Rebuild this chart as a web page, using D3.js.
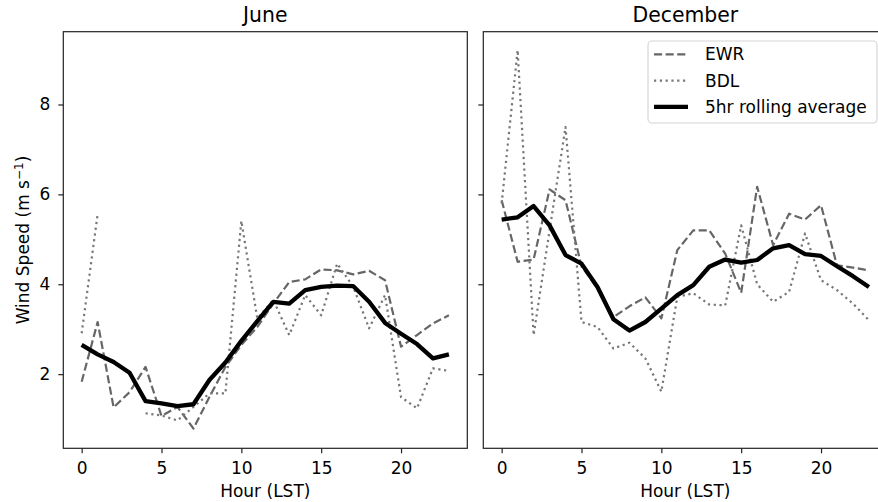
<!DOCTYPE html>
<html>
<head>
<meta charset="utf-8">
<script src="https://cdn.jsdelivr.net/npm/d3@7"></script>
<style>
  body { margin: 0; background: #fff; }
  text { font-family: "DejaVu Sans", sans-serif; fill: #000; }
</style>
</head>
<body>
<svg id="chart" width="878" height="502"></svg>
<script>
//////// Data
var hours = [0, 1, 2, 3, 4, 5, 6, 7, 8, 9, 10, 11, 12, 13, 14, 15, 16, 17, 18, 19, 20, 21, 22, 23]

var juneEWR = [1.83, 3.16, 1.26, 1.60, 2.16, 1.07, 1.27, 0.79, 1.49, 2.16, 2.65, 3.05,
               3.57, 4.05, 4.11, 4.33, 4.31, 4.22, 4.30, 4.09, 2.61, 2.87, 3.13, 3.31]
var juneBDL = [2.91, 5.56, null, null, 1.13, 1.08, 0.97, 1.27, 1.57, 1.57, 5.41, 3.24,
               3.65, 2.87, 3.76, 3.31, 4.46, 3.95, 3.02, 3.76, 1.49, 1.24, 2.13, 2.07]
var juneAvg = [2.65, 2.44, 2.27, 2.03, 1.40, 1.35, 1.29, 1.33, 1.87, 2.26, 2.74, 3.18,
               3.61, 3.57, 3.87, 3.94, 3.97, 3.96, 3.61, 3.14, 2.90, 2.67, 2.35, 2.44]

var decEWR = [5.87, 4.50, 4.55, 6.11, 5.87, 4.40, 3.91, 3.27, 3.51, 3.71, 3.24, 4.76,
              5.20, 5.20, 4.68, 3.81, 6.17, 4.87, 5.57, 5.44, 5.76, 4.42, 4.37, 4.31]
var decBDL = [5.80, 9.21, 2.87, 5.20, 7.50, 3.16, 3.05, 2.57, 2.70, 2.35, 1.61, 3.72,
              3.80, 3.55, 3.53, 5.31, 4.00, 3.61, 3.83, 5.13, 4.09, 3.87, 3.57, 3.20]
var decAvg = [5.44, 5.49, 5.74, 5.31, 4.65, 4.46, 3.94, 3.22, 2.97, 3.16, 3.46, 3.76,
              3.98, 4.39, 4.55, 4.48, 4.54, 4.80, 4.87, 4.67, 4.63, 4.40, 4.18, 3.94]

var xTicks = [0, 5, 10, 15, 20]
var yTicks = [2, 4, 6, 8]
var seriesNames = ["EWR", "BDL", "5hr rolling average"]

//////// Layout
var svg = d3.select("#chart")
var panelW = 404, panelH = 416.6, panelTop = 31.7
var panelLeft = [63.3, 483.3]
var fontSize = 17

var x = d3.scaleLinear().domain([-1.15, 24.15]).range([0, panelW])
var y = d3.scaleLinear().domain([0.35, 9.62]).range([panelH, 0])

var styles = {
  EWR: { color: "#666", width: 2.2, dash: "8.1,3.5" },
  BDL: { color: "#777", width: 2.2, dash: "2.2,3.6" },
  avg: { color: "#000", width: 4.3, dash: null }
}

var line = d3.line()
  .defined(d => d[1] != null)
  .x(d => x(d[0]))
  .y(d => y(d[1]))

function drawPanel(i, title, ewr, bdl, avg) {
  var g = svg.append("g").attr("transform", "translate(" + panelLeft[i] + "," + panelTop + ")")

  // axes
  var xAxis = d3.axisBottom(x).tickValues(xTicks).tickSize(5).tickPadding(8.5)
  g.append("g").attr("transform", "translate(0," + panelH + ")").call(xAxis)
    .call(a => a.select(".domain").remove())
  var yAxis = d3.axisLeft(y).tickValues(yTicks).tickSize(5).tickPadding(8)
  if (i == 1) yAxis.tickFormat("")
  g.append("g").call(yAxis).call(a => a.select(".domain").remove())
  g.selectAll(".tick line").attr("stroke", "#222").attr("stroke-width", 1.2)
  g.selectAll(".tick text").style("font-size", fontSize + "px").attr("fill", "#000")

  // series
  var sets = [[ewr, styles.EWR], [bdl, styles.BDL], [avg, styles.avg]]
  sets.forEach(function (s) {
    g.append("path")
      .datum(hours.map((h, k) => [h, s[0][k]]))
      .attr("d", line)
      .attr("fill", "none")
      .attr("stroke", s[1].color)
      .attr("stroke-width", s[1].width)
      .attr("stroke-dasharray", s[1].dash)
      .attr("stroke-linejoin", "round")
  })

  // frame
  g.append("rect").attr("width", panelW).attr("height", panelH)
    .attr("fill", "none").attr("stroke", "#222").attr("stroke-width", 1.2)

  g.append("text").attr("x", panelW / 2).attr("y", -10)
    .attr("text-anchor", "middle").style("font-size", "20.4px").text(title)
  g.append("text").attr("x", panelW / 2).attr("y", panelH + 49)
    .attr("text-anchor", "middle").style("font-size", fontSize + "px").text("Hour (LST)")
  return g
}

drawPanel(0, "June", juneEWR, juneBDL, juneAvg)
drawPanel(1, "December", decEWR, decBDL, decAvg)

/////// y label
var yl = svg.append("text")
  .attr("transform", "translate(29," + (panelTop + panelH / 2) + ") rotate(-90)")
  .attr("text-anchor", "middle")
  .style("font-size", fontSize + "px")
yl.append("tspan").text("Wind Speed (m s")
yl.append("tspan").attr("dy", -6).style("font-size", "12px").text("\u22121")
yl.append("tspan").attr("dy", 6).text(")")

/////// Legend
var leg = svg.append("g")
leg.append("rect").attr("x", 648).attr("y", 41).attr("width", 229).attr("height", 82)
  .attr("rx", 4).attr("fill", "#fff").attr("fill-opacity", 0.8)
  .attr("stroke", "#d6d6d6").attr("stroke-width", 1.2)
var legStyles = [styles.EWR, styles.BDL, styles.avg]
seriesNames.forEach(function (name, k) {
  var cy = 54.3 + k * 26.3
  leg.append("line").attr("x1", 654).attr("x2", 688).attr("y1", cy).attr("y2", cy)
    .attr("stroke", legStyles[k].color).attr("stroke-width", legStyles[k].width)
    .attr("stroke-dasharray", legStyles[k].dash)
  leg.append("text").attr("x", 705).attr("y", cy + 6)
    .style("font-size", fontSize + "px").text(name)
})
</script>
</body>
</html>
